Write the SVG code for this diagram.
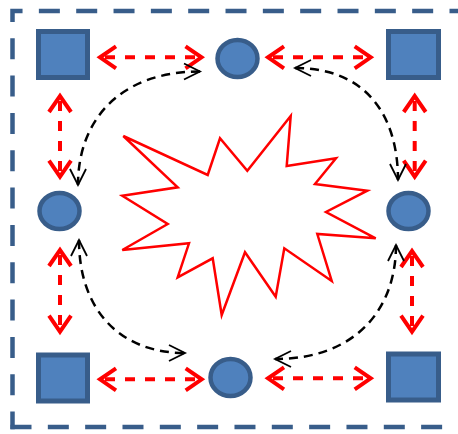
<svg xmlns="http://www.w3.org/2000/svg" width="458" height="434" viewBox="0 0 458 434">
  <style>
    .sq { fill: #4F81BD; stroke: #385D8A; stroke-width: 5; }
    .ci { fill: #4F81BD; stroke: #385D8A; stroke-width: 4.5; }
    .frame { fill: none; stroke: #385D8A; stroke-width: 4.5; stroke-dasharray: 21 16.33; }
    .red { fill: none; stroke: #FF0000; stroke-width: 4; stroke-dasharray: 10 10; stroke-dashoffset: 15; marker-start: url(#rh); marker-end: url(#rh); }
    .blk { fill: none; stroke: #000000; stroke-width: 2.5; stroke-dasharray: 9 6; marker-start: url(#bh); marker-end: url(#bh); }
    .star { fill: none; stroke: #FF0000; stroke-width: 2.5; stroke-linejoin: miter; }
  </style>
  <defs>
    <marker id="rh" markerUnits="userSpaceOnUse" viewBox="-20 -15 24 30" markerWidth="24" markerHeight="30" refX="0" refY="0" orient="auto-start-reverse" overflow="visible">
      <path d="M -16 -11 L 0 0 L -16 11" fill="none" stroke="#FF0000" stroke-width="4"/>
    </marker>
    <marker id="bh" markerUnits="userSpaceOnUse" viewBox="-20 -12 24 24" markerWidth="24" markerHeight="24" refX="0" refY="0" orient="auto-start-reverse" overflow="visible">
      <path d="M -16 -8 L 0 0 L -16 8" fill="none" stroke="#000000" stroke-width="1.8"/>
    </marker>
  </defs>
  <rect x="0" y="0" width="458" height="434" fill="#FFFFFF"/>
  <g id="frame">
    <path class="frame" d="M 458 11 H 12.5 V 429.2" style="stroke-dashoffset:12.5"/>
    <path class="frame" d="M 10.5 427 H 458"/>
  </g>
  <g id="explosion">
    <polygon class="star" points="123.3,136 207.7,175 220,138.3 247.3,170.7 290.7,116 286.7,166 336,158.3 315,184 367.3,190.7 326,212 375.7,238.3 317.3,234 331.7,281 284.3,248.3 275.7,296.7 245,252.3 221.7,315 212.7,258.3 177.7,277.3 189,243.3 122.3,250 167.7,224 122.3,195.7 177.7,187.3"/>
  </g>
  <g id="connectors">
    <path class="red" d="M 100 57.3 H 201.5"/>
    <path class="red" d="M 268 57.3 H 370.7"/>
    <path class="red" d="M 100 379.3 H 201.7"/>
    <path class="red" d="M 268 378.3 H 370.7"/>
    <path class="red" d="M 60 96 V 176.7"/>
    <path class="red" d="M 414.7 96 V 176.7"/>
    <path class="red" d="M 60 250 V 331.7"/>
    <path class="red" d="M 412 251 V 331.7"/>
    <path class="blk" d="M 200 71.5 C 120 71.5, 78 120, 78 185"/>
    <path class="blk" d="M 295 68 C 370 68, 398 120, 398 180"/>
    <path class="blk" d="M 79 240 C 79 310, 120 353, 185 353"/>
    <path class="blk" d="M 396 245 C 396 310, 355 359, 275 359"/>
  </g>
  <g id="square-top-left"><rect class="sq" x="38.5" y="31.5" width="49" height="46"/></g>
  <g id="square-top-right"><rect class="sq" x="388.5" y="31.5" width="50" height="46"/></g>
  <g id="square-bottom-left"><rect class="sq" x="38.5" y="355" width="49" height="46"/></g>
  <g id="square-bottom-right"><rect class="sq" x="388.5" y="354" width="50" height="46"/></g>
  <g id="circle-top"><ellipse class="ci" cx="237.5" cy="58.5" rx="20" ry="18.5"/></g>
  <g id="circle-left"><ellipse class="ci" cx="59.5" cy="211" rx="20" ry="18"/></g>
  <g id="circle-right"><ellipse class="ci" cx="408.5" cy="211" rx="20" ry="18"/></g>
  <g id="circle-bottom"><ellipse class="ci" cx="230.5" cy="377.5" rx="20" ry="18.5"/></g>
</svg>
